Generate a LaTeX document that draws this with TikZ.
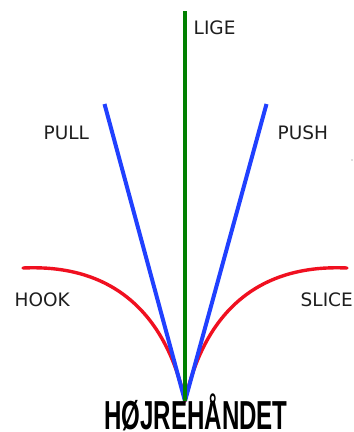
\documentclass[tikz,border=0pt]{standalone}
\usepackage{fontspec}
\setmainfont{DejaVu Sans}
\newfontfamily\titlefont{Liberation Sans}
\usepackage{pdfrender}
\definecolor{lgreen}{RGB}{0,128,0}
\definecolor{lblue}{RGB}{32,64,255}
\definecolor{lred}{RGB}{240,16,32}
\definecolor{ltext}{RGB}{30,30,30}
\tikzset{
  shotline/.style={line width=4pt},
  hookline/.style={line width=3.4pt, color=lred, line cap=round},
  lbl/.style={font=\fontsize{18.5}{20}\selectfont, text=ltext, inner sep=0pt, anchor=west},
}
\begin{document}
\begin{tikzpicture}[x=1pt,y=-1pt]
\useasboundingbox[fill=white] (0,0) rectangle (354,432);
% points
\coordinate (o) at (185,401);
\coordinate (top) at (185,11);
\coordinate (pl) at (104.5,104);
\coordinate (ps) at (266.5,104);
\coordinate (hk) at (23,268);
\coordinate (sl) at (347,268);
% red curves
\draw[hookline] (hk) .. controls (110,264) and (165,310) .. (o);
\draw[hookline] (sl) .. controls (260,264) and (205,310) .. (o);
% blue
\draw[shotline, lblue] (pl) -- (o);
\draw[shotline, lblue] (ps) -- (o);
% green
\draw[shotline, lgreen] (top) -- (o);
% labels
\node[lbl] (lige) at (193.5,28) {LIGE};
\node[lbl] (pull) at (43.5,132.5) {PULL};
\node[lbl] (push) at (277.5,132.5) {PUSH};
\node[lbl] (hook) at (14.5,299.5) {HOOK};
\node[lbl] (slice) at (300.5,299.5) {SLICE};
\fill[ltext!60] (352,160) circle (0.7pt);
% title
\node[inner sep=0pt, anchor=base] (title) at (196,429)
  {\scalebox{0.595}[1]{\titlefont\bfseries\fontsize{40.5}{42}\selectfont\textpdfrender{TextRenderingMode=FillStroke,LineWidth=2}{HØJREHÅNDET}}};
\end{tikzpicture}
\end{document}
